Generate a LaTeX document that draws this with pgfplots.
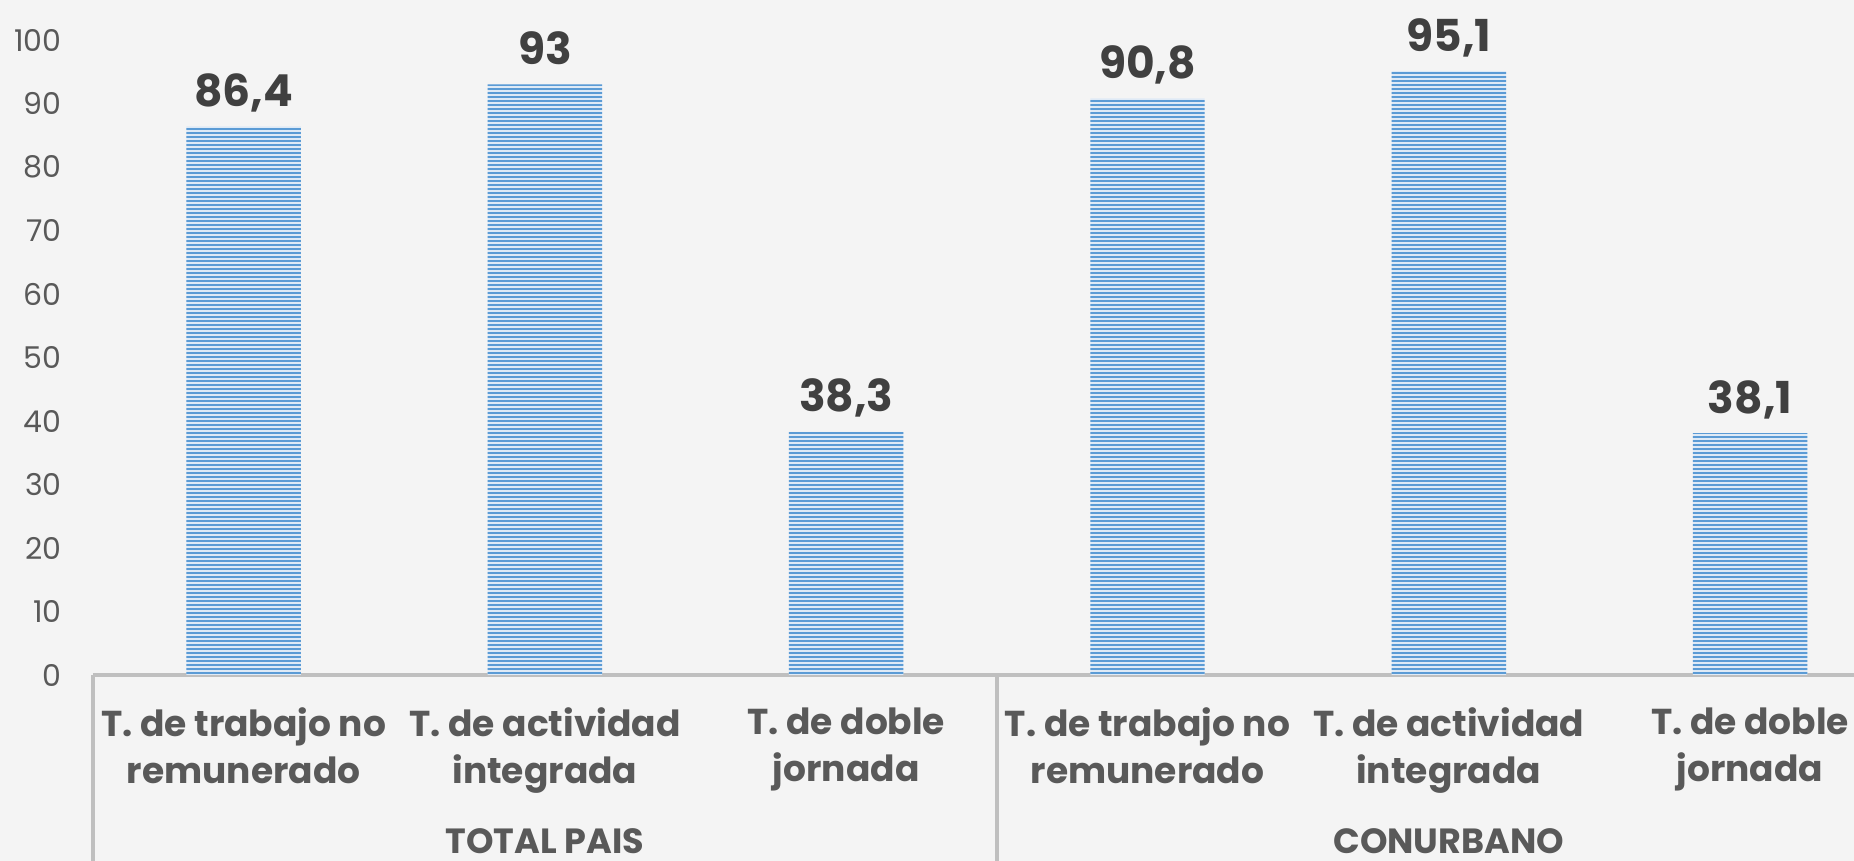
\documentclass[border=0pt]{standalone}
\usepackage{pgfplots}
\pgfplotsset{compat=1.18}
\usepackage{fontspec}
\setmainfont{Poppins}
\usetikzlibrary{patterns.meta}
\definecolor{bg}{HTML}{F4F4F4}
\definecolor{barblue}{HTML}{5B9BD5}
\definecolor{barlight}{HTML}{DFEAF6}
\definecolor{lbl}{HTML}{404040}
\definecolor{tck}{HTML}{595959}
\definecolor{axl}{HTML}{BFBFBF}
\begin{document}
\begin{tikzpicture}
\useasboundingbox (0,0) rectangle (927pt,430.5pt);
\fill[bg] (0,0) rectangle (927pt,430.5pt);
\clip (0,0) rectangle (927pt,430.5pt);
\begin{axis}[
  at={(46.5pt,93pt)}, anchor=south west,
  scale only axis, width=880.5pt, height=317.5pt,
  xmin=-0.5, xmax=5.345, ymin=0, ymax=100,
  axis lines=left, axis line style={-},
  x axis line style={draw=axl, line width=2pt},
  y axis line style={draw=none},
  major tick length=0pt,
  /pgf/number format/assume math mode=true,
  ytick={0,10,...,100},
  yticklabel style={font=\fontsize{15}{15}\selectfont, text=tck, anchor=east, inner sep=0pt, xshift=-15.5pt},
  xtick={0,1,2,3,4,5},
  xticklabels={{T. de trabajo no\\remunerado},{T. de actividad\\integrada},{T. de doble\\jornada},{T. de trabajo no\\remunerado},{T. de actividad\\integrada},{T. de doble\\jornada}},
  xticklabel style={font=\bfseries\fontsize{18}{23.5}\selectfont, text=tck, align=center, anchor=north, inner sep=0pt, yshift=-16pt},
  ybar, bar width=0.38,
  nodes near coords,
  nodes near coords style={font=\bfseries\fontsize{22}{22}\selectfont, text=lbl, anchor=base, inner sep=0pt, yshift=10pt, /pgf/number format/use comma, /pgf/number format/assume math mode=true},
  clip=false,
]
\addplot[draw=none, fill=barlight, postaction={pattern={Lines[angle=0,distance=2pt,line width=1.25pt]}, pattern color=barblue}]
  coordinates {(0,86.4) (1,93) (2,38.3) (3,90.8) (4,95.1) (5,38.1)};
\draw[axl, line width=2pt] (axis cs:-0.5,0) -- ++(0pt,-95pt);
\draw[axl, line width=2pt] (axis cs:2.5,0) -- ++(0pt,-95pt);
\draw[axl, line width=2pt] (axis cs:5.5,0) -- ++(0pt,-95pt);
\node[font=\bfseries\fontsize{17.5}{17.5}\selectfont, text=tck, inner sep=0pt] at (axis cs:1,0) [yshift=-83pt] {TOTAL PAIS};
\node[font=\bfseries\fontsize{17.5}{17.5}\selectfont, text=tck, inner sep=0pt] at (axis cs:4,0) [yshift=-83pt] {CONURBANO};
\end{axis}
\end{tikzpicture}
\end{document}
